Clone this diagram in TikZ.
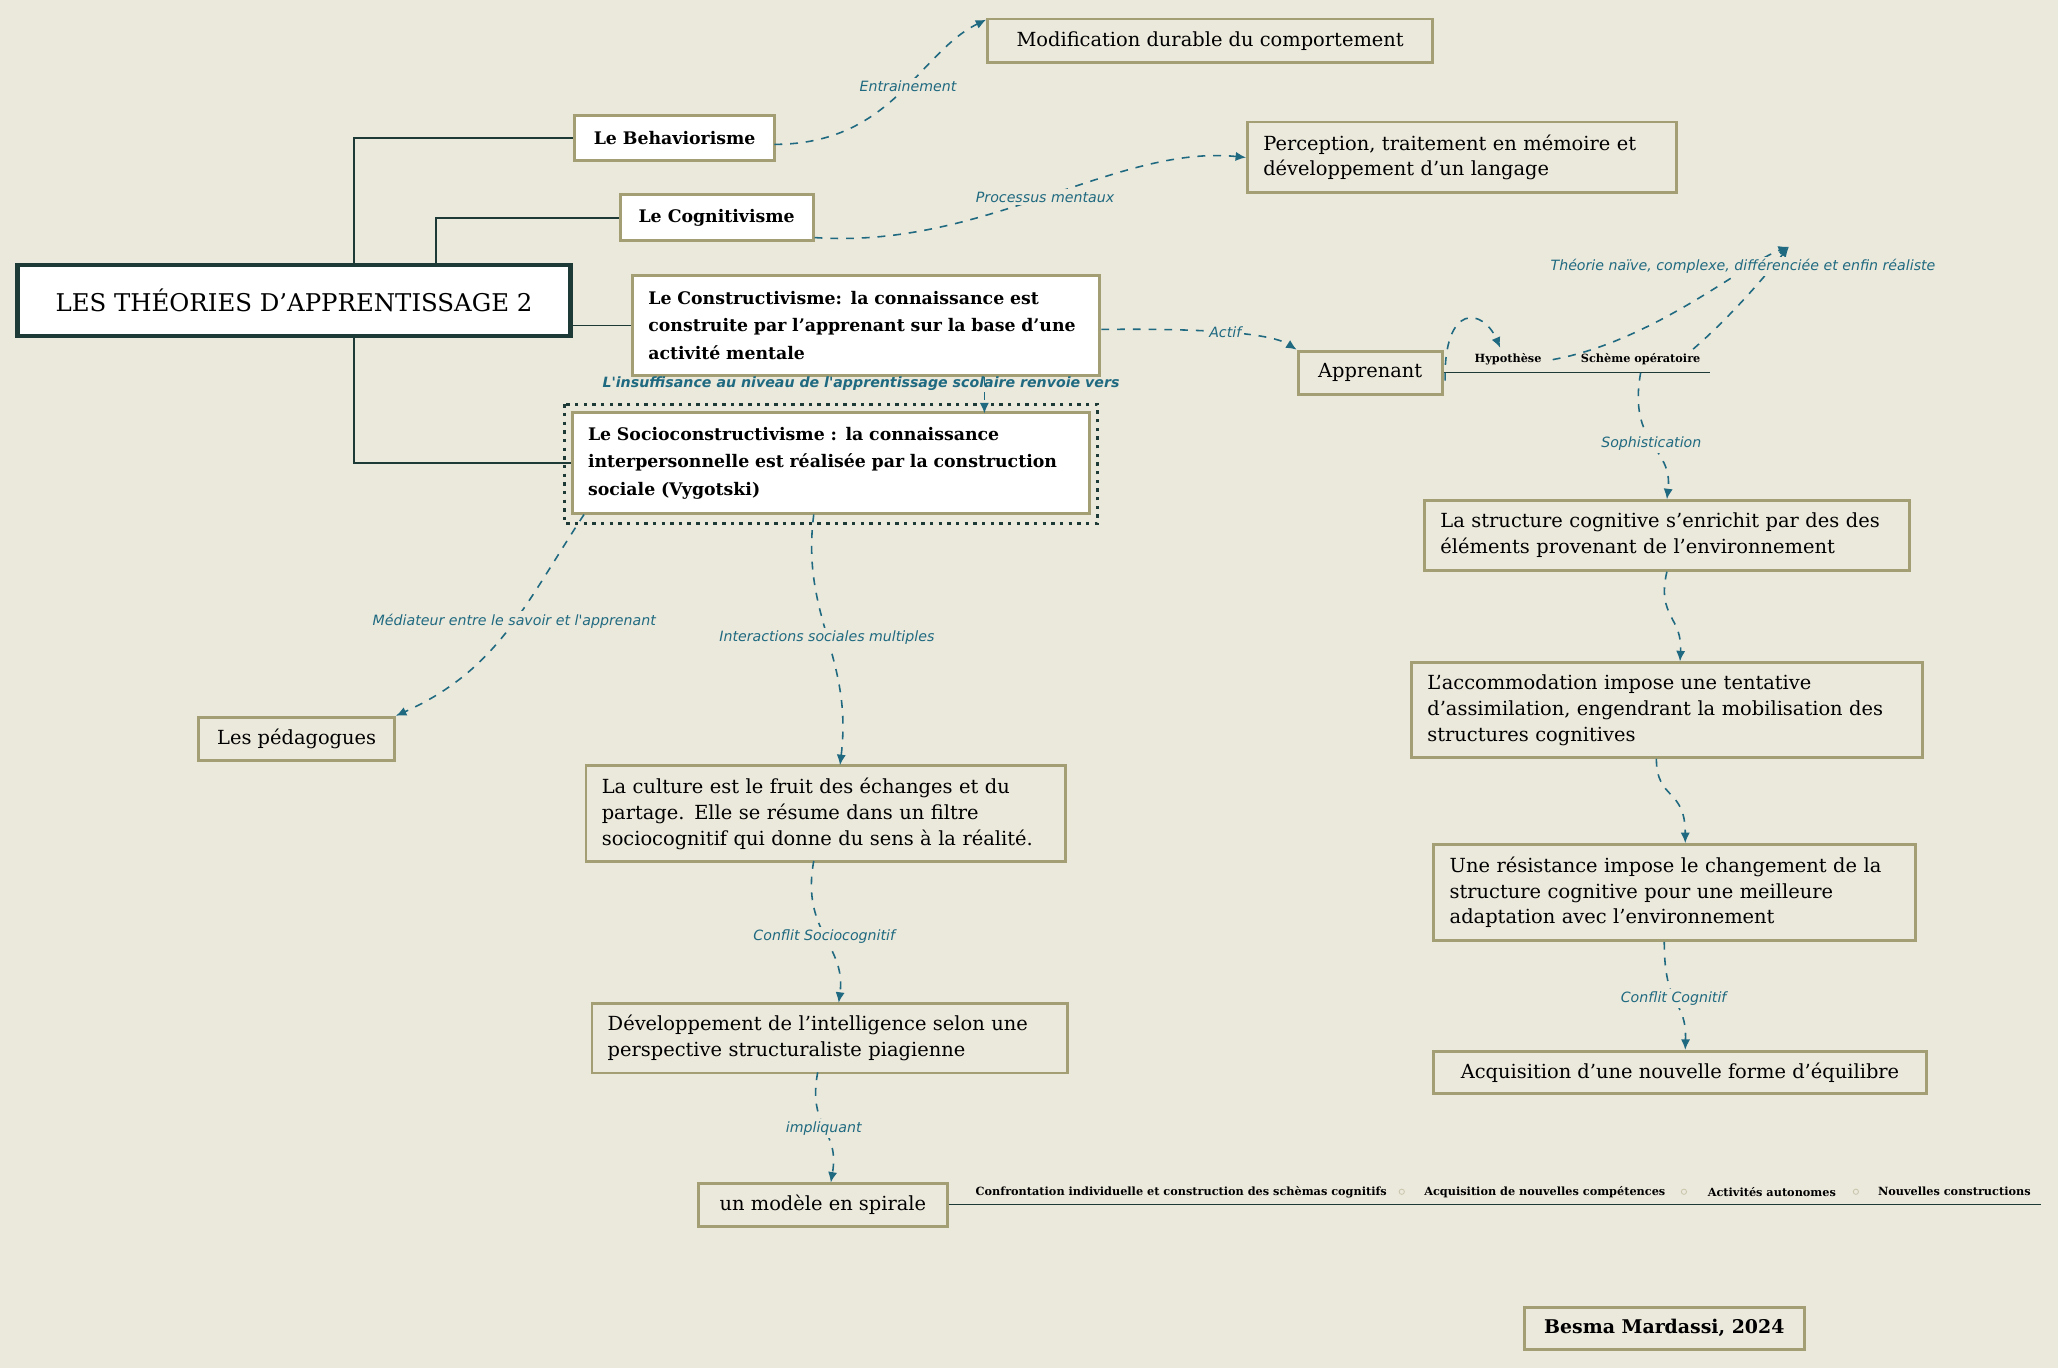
\documentclass[tikz,border=0pt]{standalone}
\usepackage{fontspec}
\setmainfont{DejaVu Serif}
\newfontfamily\lab{DejaVu Sans}
\usetikzlibrary{arrows.meta}
\definecolor{bg}{HTML}{EBE8DC}
\definecolor{olive}{HTML}{A39E73}
\definecolor{dark}{HTML}{1E3A36}
\definecolor{teal}{HTML}{1F6A80}
\begin{document}
\begin{tikzpicture}[x=0.5pt,y=-0.5pt,
  box/.style={draw=olive,line width=1.1pt,fill=bg,inner ysep=0pt,inner xsep=6pt,font=\fontsize{7.4}{9.8}\selectfont,align=left,minimum height=#1},
  wbox/.style={draw=olive,line width=1.1pt,fill=white,inner ysep=0pt,inner xsep=6pt,font=\bfseries\fontsize{6.6}{10.4}\selectfont,align=left,minimum height=#1},
  tree/.style={draw=dark,line width=0.7pt},
  con/.style={draw=teal,dashed,line width=0.6pt,-{Latex[length=4pt,width=3.5pt]}},
  lbl/.style={font=\lab\itshape\fontsize{5.4}{6}\selectfont,text=teal,fill=bg,inner sep=1pt},
  sm/.style={font=\bfseries\fontsize{4.3}{5}\selectfont,inner sep=1pt}]
\fill[bg] (0,0) rectangle (1568,1042);
\useasboundingbox (0,0) rectangle (1568,1042);
% boxes
\node[draw=dark,line width=1.8pt,fill=white,minimum width=421*0.5pt,minimum height=27pt,font=\fontsize{9.3}{12}\selectfont] (main) at (224,229) {LES THÉORIES D'APPRENTISSAGE 2};
\node[wbox=17pt,minimum width=76pt,align=center] (beh) at (514,105) {Le Behaviorisme};
\node[wbox=17.5pt,minimum width=73.5pt,align=center] (cog) at (546,166) {Le Cognitivisme};
\node[wbox=38pt,text width=166pt] (con) at (660,248) {Le Constructivisme: la connaissance est\\construite par l'apprenant sur la base d'une\\activité mentale};
\draw[dark,line width=1.3pt,dotted] (430,308) rectangle (836,399);
\node[wbox=38.5pt,text width=185pt] (soc) at (633,353) {Le Socioconstructivisme : la connaissance\\interpersonnelle est réalisée par la construction\\sociale (Vygotski)};
\node[box=16.5pt,minimum width=169.5pt,align=center] (mod) at (922,31) {Modification durable du comportement};
\node[box=27pt,text width=151.5pt] (per) at (1114,120) {Perception, traitement en mémoire et\\développement d'un langage};
\node[box=16.5pt,minimum width=55pt,align=center] (app) at (1044,284) {Apprenant};
\node[sm] (hyp) at (1149,274) {Hypothèse};
\node[sm] (sch) at (1250,274) {Schème opératoire};
\node[box=26.5pt,text width=172.5pt] (str) at (1270,408) {La structure cognitive s'enrichit par des des\\éléments provenant de l'environnement};
\node[box=36pt,text width=182.5pt] (acc) at (1270,541) {L'accommodation impose une tentative\\d'assimilation, engendrant la mobilisation des\\structures cognitives};
\node[box=36.5pt,text width=171.5pt] (res) at (1276,680) {Une résistance impose le changement de la\\structure cognitive pour une meilleure\\adaptation avec l'environnement};
\node[box=16pt,minimum width=187.5pt,align=center] (acq) at (1280,817) {Acquisition d'une nouvelle forme d'équilibre};
\node[box=16.5pt,minimum width=74.5pt,align=center] (ped) at (226,563) {Les pédagogues};
\node[box=36.5pt,text width=170.5pt] (cul) at (629,620) {La culture est le fruit des échanges et du\\partage. Elle se résume dans un filtre\\sociocognitif qui donne du sens à la réalité.};
\node[box=26.5pt,text width=169pt] (dev) at (632,791) {Développement de l'intelligence selon une\\perspective structuraliste piagienne};
\node[box=16.5pt,minimum width=95pt,align=center] (spi) at (627,918) {un modèle en spirale};
\node[box=16pt,minimum width=106.5pt,align=center,font=\bfseries\fontsize{7.2}{9}\selectfont] (bes) at (1268,1012) {Besma Mardassi, 2024};
% bottom line items
\draw[dark,line width=0.4pt] (spi.east) -- (1555,918);
\node[sm] (b1) at (900,908) {Confrontation individuelle et construction des schèmas cognitifs};
\node[sm] (b2) at (1177,908) {Acquisition de nouvelles compétences};
\node[sm] (b3) at (1350,908) {Activités autonomes};
\node[sm] (b4) at (1489,908) {Nouvelles constructions};
\foreach \x in {1068,1283,1414}{\draw[olive!60,line width=0.3pt] (\x,908) circle (2);}
\draw[dark,line width=0.4pt] (app.east) -- (1303,284);
% tree
\draw[tree] (270,202) |- (beh.west);
\draw[tree] (332,202) |- (cog.west);
\draw[tree] (main.east |- 0,248) -- (con.west |- 0,248);
\draw[tree] (270,256) |- (soc.west);
% dashed connectors
\coordinate (c1) at (590,110);
\draw[con] (c1) .. controls (680,110) and (700,40) .. (mod.west |- 0,15) node[pos=0.55,lbl]{Entrainement};
\draw[con] (cog.east |- 0,181) .. controls (750,190) and (850,110) .. (per.west) node[pos=0.5,lbl]{Processus mentaux};
\draw[con] (con.east |- 0,251) .. controls (930,250) and (970,255) .. (app.north west) node[pos=0.45,lbl]{Actif};
\draw[con] (750,287) -- (750,315);
\node[font=\lab\bfseries\itshape\fontsize{5.4}{6}\selectfont,text=teal,inner sep=0pt] (ins) at (656,292) {L'insuffisance au niveau de l'apprentissage scolaire renvoie vers};
\draw[con] (1101,290) .. controls (1100,230) and (1130,235) .. (1143,265);
\coordinate (top) at (1363,188);
\draw[con] (1183,274) .. controls (1260,260) and (1330,200) .. (top);
\draw[con] (1290,266) .. controls (1320,240) and (1345,210) .. (top);
\node[lbl] at (1328,203) {Théorie naïve, complexe, différenciée et enfin réaliste};
\draw[con] (1250,284) .. controls (1240,340) and (1275,340) .. (str.north) node[pos=0.5,lbl]{Sophistication};
\draw[con] (str.south) .. controls (1262,470) and (1282,470) .. (acc.north -| 1280,0);
\draw[con] (acc.south -| 1262,0) .. controls (1262,610) and (1284,600) .. (res.north -| 1284,0);
\draw[con] (res.south -| 1268,0) .. controls (1268,770) and (1285,760) .. (acq.north -| 1284,0) node[pos=0.45,lbl]{Conflit Cognitif};
\draw[con] (445,392) .. controls (400,460) and (380,510) .. (ped.north east) node[pos=0.45,lbl]{Médiateur entre le savoir et l'apprenant};
\draw[con] (620,392) .. controls (610,470) and (650,500) .. (640,583) node[pos=0.5,lbl]{Interactions sociales multiples};
\draw[con] (620,656) .. controls (610,710) and (645,720) .. (639,764) node[pos=0.5,lbl]{Conflit Sociocognitif};
\draw[con] (623,817) .. controls (615,860) and (640,860) .. (633,901) node[pos=0.5,lbl]{impliquant};
\end{tikzpicture}
\end{document}
